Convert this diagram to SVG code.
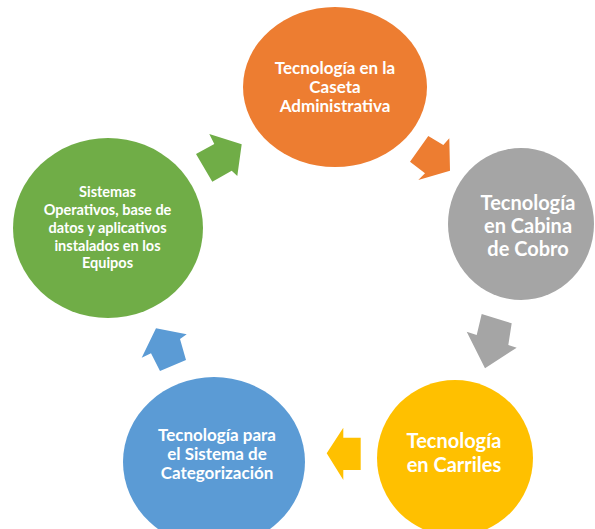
<svg xmlns="http://www.w3.org/2000/svg" width="595" height="529" viewBox="0 0 595 529">
  <style>
    .lbl { font-family: Lato, "Liberation Sans", sans-serif; font-weight: bold; fill: #ffffff; text-anchor: middle; }
    .big { font-size: 20px; }
    .mid { font-size: 17px; }
    .small { font-size: 14.5px; }
  </style>
  <rect width="595" height="529" fill="#ffffff"/>

  <!-- block arrows between the stages -->
  <g id="connectors">
    <polygon fill="#70AD47" points="209.3,134 241.7,144.3 237.3,176 231.7,170.7 212.3,181.7 196,154 214.3,144"/>
    <polygon fill="#ED7D31" points="428.3,136 443.3,145 449.3,138.3 450,170.7 418.3,180 425,173.3 410,161.7"/>
    <polygon fill="#A5A5A5" points="481.7,314 511.7,323.3 508.3,345 516.7,347.7 485,368.3 466.7,331.7 476.7,335"/>
    <polygon fill="#FFC000" points="326.7,453.3 343.3,427.7 343.3,437.7 360.7,437.7 360.7,470 343.3,470 343.3,480"/>
    <polygon fill="#5B9BD5" points="156,328.3 186.7,334.3 180,339 186,360 160,371 151,353.3 141.7,357.7"/>
  </g>

  <g id="caseta">
    <ellipse cx="335" cy="87" rx="92" ry="80" fill="#ED7D31"/>
    <text class="lbl mid" x="335" y="74">Tecnología en la</text>
    <text class="lbl mid" x="335" y="93">Caseta</text>
    <text class="lbl mid" x="335" y="112">Administrativa</text>
  </g>

  <g id="cabina">
    <ellipse cx="521" cy="224" rx="73" ry="76" fill="#A5A5A5"/>
    <text class="lbl big" x="528" y="210">Tecnología</text>
    <text class="lbl big" x="528" y="233">en Cabina</text>
    <text class="lbl big" x="528" y="256">de Cobro</text>
  </g>

  <g id="carriles">
    <ellipse cx="455" cy="458" rx="78" ry="78" fill="#FFC000"/>
    <text class="lbl big" x="454" y="448">Tecnología</text>
    <text class="lbl big" x="454" y="472">en Carriles</text>
  </g>

  <g id="categorizacion">
    <ellipse cx="214" cy="462" rx="91" ry="85" fill="#5B9BD5"/>
    <text class="lbl mid" x="217" y="441">Tecnología para</text>
    <text class="lbl mid" x="217" y="460">el Sistema de</text>
    <text class="lbl mid" x="217" y="479">Categorización</text>
  </g>

  <g id="sistemas">
    <ellipse cx="108" cy="228" rx="95" ry="90" fill="#70AD47"/>
    <text class="lbl small" x="107.5" y="197">Sistemas</text>
    <text class="lbl small" x="107.5" y="215">Operativos, base de</text>
    <text class="lbl small" x="107.5" y="233">datos y aplicativos</text>
    <text class="lbl small" x="107.5" y="250.5">instalados en los</text>
    <text class="lbl small" x="107.5" y="268">Equipos</text>
  </g>
</svg>
